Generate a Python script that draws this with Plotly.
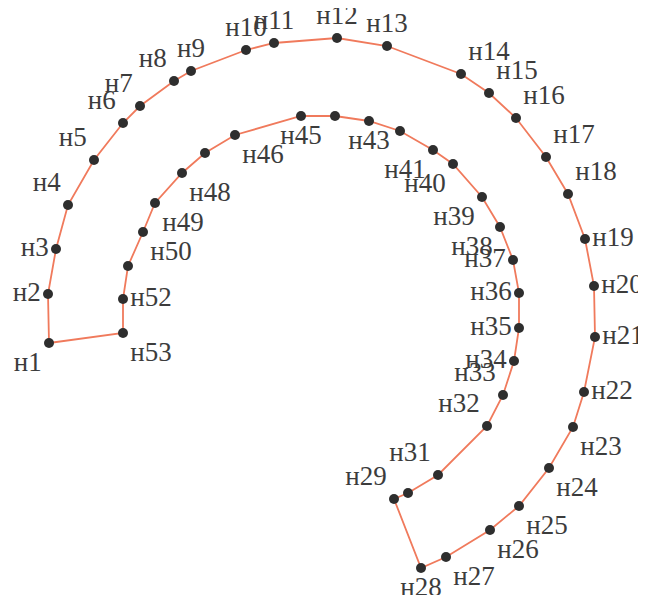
import plotly.graph_objects as go

# point coordinates (x right, y up; plot units)
labels = ["н%d" % i for i in range(1, 54)]
x_vals = [49, 48, 56, 68, 94, 123, 140, 174, 191, 246,
          274, 337, 387, 461, 489, 516, 546, 568, 585, 594,
          595, 584, 573, 549, 519, 490, 446, 421, 394, 408,
          438, 487, 503, 514, 519, 519, 513, 500, 482, 453,
          433, 400, 369, 335, 301, 235, 205, 182, 155, 143,
          128, 123, 123]
y_px = [343, 294, 249, 205, 160, 123, 106, 81, 71, 50,
        43, 38, 46, 74, 93, 118, 157, 194, 239, 286,
        337, 392, 427, 468, 506, 530, 557, 568, 499, 493,
        475, 426, 395, 361, 328, 293, 260, 227, 197, 164,
        150, 131, 121, 116, 116, 135, 153, 173, 203, 232,
        266, 299, 333]
H = 595
y_vals = [H - v for v in y_px]

hidden = {30, 42, 44, 47, 51}
shown_text = ["" if (i + 1) in hidden else t for i, t in enumerate(labels)]

positions = ["bottom left", "middle left", "middle left", "top left", "top left",
             "top left", "top left", "top left", "top center", "top center",
             "top center", "top center", "top center", "top right", "top right",
             "top right", "top right", "top right", "middle right", "middle right",
             "middle right", "middle right", "bottom right", "bottom right", "bottom right",
             "bottom right", "bottom right", "bottom center", "top left", "top left",
             "top left", "top left", "top left", "middle left", "middle left",
             "middle left", "middle left", "bottom left", "bottom left", "bottom left",
             "bottom left", "bottom left", "bottom center", "bottom center", "bottom center",
             "bottom right", "bottom right", "bottom right", "bottom right", "bottom right",
             "bottom right", "middle right", "bottom right"]

fig = go.Figure()
# closed outline (last point joins back to the first)
fig.add_trace(go.Scatter(
    x=x_vals + x_vals[:1], y=y_vals + y_vals[:1],
    mode="lines",
    line=dict(color="#f07a5c", width=1.8),
    hoverinfo="skip",
    showlegend=False,
))
fig.add_trace(go.Scatter(
    x=x_vals, y=y_vals,
    mode="markers+text",
    text=shown_text,
    textposition=positions,
    textfont=dict(family="Liberation Serif, Times New Roman, DejaVu Serif, serif",
                  size=27, color="#3c3c3c"),
    marker=dict(color="#2e2e2e", size=10),
    hoverinfo="text",
    hovertext=labels,
    showlegend=False,
    cliponaxis=False,
))

fig.update_layout(
    width=646, height=595,
    margin=dict(l=0, r=0, t=0, b=0),
    paper_bgcolor="white", plot_bgcolor="white",
    xaxis=dict(range=[8, 654], visible=False, fixedrange=True),
    yaxis=dict(range=[-8, 587], visible=False, fixedrange=True),
)
fig.write_html("out.html")
